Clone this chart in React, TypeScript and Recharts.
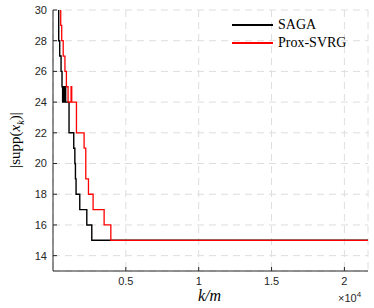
import { LineChart, Line, XAxis, YAxis, CartesianGrid } from "recharts";

// step points: [k/m where value changes, new |supp|]
const sagaX = [392, 392, 461, 553, 619, 660, 690, 730, 760, 800, 840, 870, 1101, 1424, 1500, 1540, 1583, 1837, 2320, 2662, 21620];
const sagaY = [30, 28, 27, 26, 25, 24, 25, 24, 25, 24, 25, 24, 22, 21, 20, 19, 18, 17, 16, 15, 15];

const svrgX = [530, 530, 598, 700, 820, 920, 1034, 1240, 1286, 1610, 2135, 2250, 2434, 2752, 3509, 3970, 21620];
const svrgY = [30, 29, 28, 27, 26, 25, 24, 25, 24, 22, 21, 19, 18, 17, 16, 15, 15];

const xTicks = [5000, 10000, 15000, 20000];
const xTickLabels = ["0.5", "1", "1.5", "2"];
const yTicks = [14, 16, 18, 20, 22, 24, 26, 28, 30];

const sagaData = sagaX.map((x, i) => ({ x, y: sagaY[i] }));
const svrgData = svrgX.map((x, i) => ({ x, y: svrgY[i] }));

const axisColor = "#262626";
const tickFont = { fontFamily: "Liberation Sans, Arial, sans-serif", fontSize: 11, fill: axisColor };

export default function App() {
  return (
    <div style={{ position: "absolute", left: 0, top: 0, width: 374, height: 308, background: "#fff" }}>
      <LineChart width={374} height={308} data={sagaData} margin={{ top: 10, right: 6, left: 0, bottom: 0 }}>
        <CartesianGrid stroke="#dedede" strokeDasharray="7 5" />
        <XAxis
          dataKey="x"
          type="number"
          domain={[0, 21620]}
          ticks={xTicks}
          tickFormatter={(v: number) => xTickLabels[xTicks.indexOf(v)]}
          height={37}
          stroke={axisColor}
          tick={tickFont}
          tickSize={-4}
          tickMargin={10}
          allowDataOverflow
        />
        <XAxis xAxisId="top" orientation="top" type="number" domain={[0, 21620]} ticks={xTicks} tick={false} tickSize={-4} height={0} stroke={axisColor} />
        <YAxis
          type="number"
          domain={[13, 30]}
          ticks={yTicks}
          width={53}
          stroke={axisColor}
          tick={tickFont}
          tickSize={-4}
          tickMargin={10}
          allowDataOverflow
        />
        <YAxis yAxisId="right" orientation="right" type="number" domain={[13, 30]} ticks={yTicks} tick={false} tickSize={-4} width={0} stroke={axisColor} />
        <Line data={sagaData} dataKey="y" type="stepAfter" stroke="#000000" strokeWidth={1.4} dot={false} isAnimationActive={false} />
        <Line data={svrgData} dataKey="y" type="stepAfter" stroke="#ff0000" strokeWidth={1.3} dot={false} isAnimationActive={false} />
      </LineChart>

      {/* legend */}
      <div style={{ position: "absolute", left: 232, top: 16, fontFamily: "Liberation Serif, DejaVu Serif, serif", fontSize: 14, color: "#000" }}>
        <div style={{ display: "flex", alignItems: "center", height: 18 }}>
          <div style={{ width: 41, height: 1.5, background: "#000", marginRight: 5 }} />
          <span>SAGA</span>
        </div>
        <div style={{ display: "flex", alignItems: "center", height: 18 }}>
          <div style={{ width: 41, height: 1.5, background: "#ff0000", marginRight: 5 }} />
          <span>Prox-SVRG</span>
        </div>
      </div>

      {/* axis labels */}
      <div style={{ position: "absolute", left: 198, top: 287, fontFamily: "Liberation Serif, DejaVu Serif, serif", fontStyle: "italic", fontSize: 16, color: "#000" }}>
        k/m
      </div>
      <div style={{ position: "absolute", left: 338, top: 290, fontFamily: "Liberation Sans, Arial, sans-serif", fontSize: 11, color: axisColor }}>
        ×10<sup style={{ fontSize: 8 }}>4</sup>
      </div>
      <div
        style={{
          position: "absolute",
          left: 16,
          top: 140,
          transform: "translate(-50%, -50%) rotate(-90deg)",
          whiteSpace: "nowrap",
          fontFamily: "Liberation Serif, DejaVu Serif, serif",
          fontSize: 15,
          color: "#000",
        }}
      >
        |supp(<i>x</i>
        <sub style={{ fontSize: 10 }}>
          <i>k</i>
        </sub>
        )|
      </div>
    </div>
  );
}
